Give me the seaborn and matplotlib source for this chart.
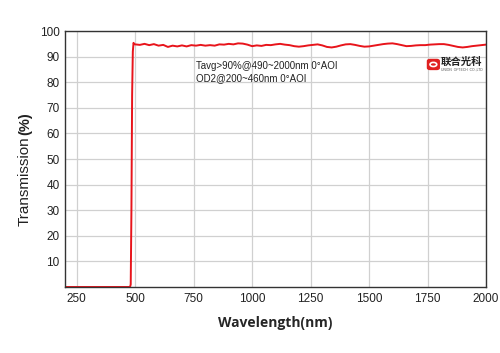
import numpy as np
import pandas as pd
import matplotlib
matplotlib.use("Agg")
import matplotlib.pyplot as plt
from matplotlib.patches import FancyBboxPatch, Circle
import seaborn as sns

# blocking region + edge
edge_nm = [200, 478, 481, 484, 487, 490, 493, 496]
edge_t = [0.0, 0.0, 1.0, 30.0, 75.0, 92.0, 95.4, 94.9]

# pass band, every 20 nm from 500 to 2000
band_nm = np.arange(500, 2001, 20)
band_t = [94.8, 94.6, 95.0, 94.5, 94.9, 94.3, 94.6, 93.8, 94.3, 94.0,
          94.4, 94.0, 94.5, 94.3, 94.6, 94.3, 94.5, 94.3, 94.8, 94.7,
          95.0, 94.8, 95.2, 95.1, 94.7, 94.1, 94.4, 94.2, 94.6, 94.5,
          94.8, 95.0, 94.7, 94.5, 94.1, 93.9, 94.1, 94.4, 94.6, 94.8,
          94.4, 93.8, 93.6, 93.9, 94.4, 94.8, 94.9, 94.6, 94.2, 93.9,
          94.0, 94.3, 94.6, 94.9, 95.1, 95.2, 94.9, 94.5, 94.1, 94.2,
          94.4, 94.5, 94.5, 94.7, 94.8, 94.9, 94.9, 94.6, 94.2, 93.8,
          93.6, 93.8, 94.1, 94.3, 94.5, 94.7]

xticks = [250, 500, 750, 1000, 1250, 1500, 1750, 2000]
yticks = [10, 20, 30, 40, 50, 60, 70, 80, 90, 100]
notes = ["Tavg>90%@490~2000nm 0°AOI", "OD2@200~460nm 0°AOI"]

df = pd.DataFrame({
    "wavelength": list(edge_nm) + list(band_nm),
    "T": edge_t + band_t,
})

sns.set_theme(style="white")
plt.rcParams["font.family"] = ["Liberation Sans", "DejaVu Sans"]

fig = plt.figure(figsize=(5.0, 3.53), dpi=100)
ax = fig.add_axes([0.13, 0.187, 0.842, 0.725])

sns.lineplot(data=df, x="wavelength", y="T", ax=ax, color="#e8141b",
             linewidth=1.4, sort=False, estimator=None)

ax.set_xlim(200, 2000)
ax.set_ylim(0, 100)
ax.set_xticks(xticks)
ax.set_yticks(yticks)
ax.tick_params(length=0, labelsize=8.5, colors="#222222", pad=4)
ax.grid(True, color="#d0d0d0", linewidth=0.9)
for s in ax.spines.values():
    s.set_color("#333333")
    s.set_linewidth(1.0)

ax.set_xlabel("Wavelength(nm)", fontsize=10, fontweight="bold",
              family=["Open Sans", "DejaVu Sans"], labelpad=8)
ax.set_ylabel("")
fig.text(0.05, 0.486, "Transmission", rotation=90, fontsize=11,
         ha="center", va="center", color="#222222")
fig.text(0.05, 0.649, "(%)", rotation=90, fontsize=10.5, fontweight="bold",
         ha="center", va="center", color="#222222")

ax.text(0.311, 0.863, notes[0], transform=ax.transAxes, fontsize=7.0,
        va="center", color="#222222")
ax.text(0.311, 0.816, notes[1], transform=ax.transAxes, fontsize=7.0,
        va="center", color="#222222")

# logo
ax.add_patch(FancyBboxPatch((0.863, 0.852), 0.024, 0.035,
                            boxstyle="round,pad=0.002,rounding_size=0.006",
                            transform=ax.transAxes, color="#e02020"))
ax.add_patch(Circle((0.875, 0.8695), 0.008, transform=ax.transAxes,
                    facecolor="none", edgecolor="white", linewidth=1.2))
ax.text(0.892, 0.879, "联合光科", transform=ax.transAxes, fontsize=7.5,
        fontweight="bold", family=["Noto Sans CJK SC", "DejaVu Sans"],
        va="center", color="#222222")
ax.text(0.892, 0.851, "UNION  OPTECH  CO.,LTD", transform=ax.transAxes,
        fontsize=2.4, va="center", color="#555555")

fig.savefig("out.png", dpi=100)
